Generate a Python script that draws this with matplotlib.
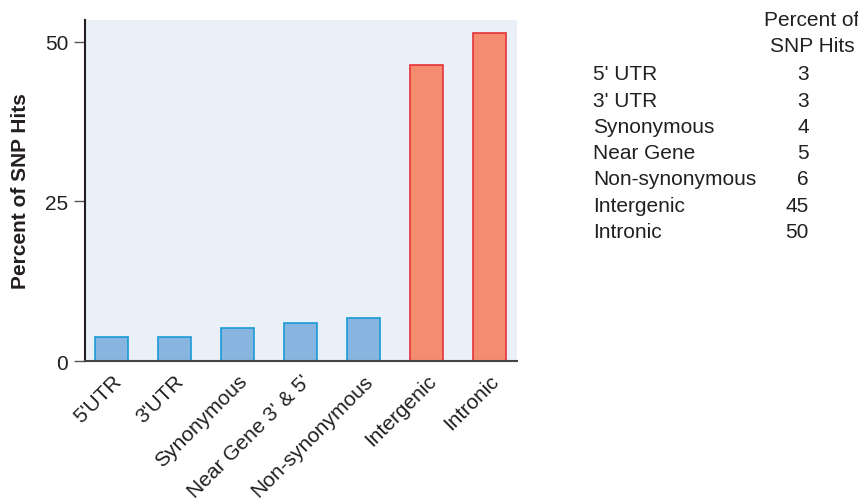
import matplotlib
matplotlib.use("Agg")
import matplotlib.pyplot as plt

plt.rcParams['font.family'] = ['Liberation Sans', 'DejaVu Sans']

# bar data (heights as drawn in the chart)
categories = ["5'UTR", "3'UTR", "Synonymous", "Near Gene 3' & 5'",
              "Non-synonymous", "Intergenic", "Intronic"]
bar_values = [3.8, 3.8, 5.1, 5.9, 6.7, 46.3, 51.3]
is_high = [False, False, False, False, False, True, True]

# side table
table_labels = ["5' UTR", "3' UTR", "Synonymous", "Near Gene",
                "Non-synonymous", "Intergenic", "Intronic"]
table_values = [3, 3, 4, 5, 6, 45, 50]

text_col = '#231f20'
blue_fill, blue_edge = '#88b5df', '#1a9ad6'
red_fill, red_edge = '#f48d70', '#e8303a'

fig = plt.figure(figsize=(8.58, 5.02), dpi=100)
ax = fig.add_axes([85/858, 1 - 362/502, 432/858, 341/502])
ax.set_facecolor('#e9f0f8')

fills = [red_fill if h else blue_fill for h in is_high]
edges = [red_edge if h else blue_edge for h in is_high]
ax.bar(range(len(categories)), bar_values, width=0.52, color=fills,
       edgecolor=edges, linewidth=1.2, zorder=2)

ax.set_xlim(-0.42, 6.44)
ax.set_ylim(0, 53.4)
ax.set_yticks([0, 25, 50])
ax.set_xticks(range(len(categories)))
ax.set_xticklabels(categories, rotation=45, ha='right', va='top',
                   rotation_mode='anchor', fontsize=15, color=text_col)
ax.tick_params(axis='x', length=0, pad=7)
ax.tick_params(axis='y', length=8, width=1, color='#555555', pad=4,
               labelsize=15, labelcolor=text_col)

for s in ['top', 'right']:
    ax.spines[s].set_visible(False)
ax.spines['left'].set_color(text_col)
ax.spines['left'].set_linewidth(1.5)
ax.spines['bottom'].set_color('#444444')
ax.spines['bottom'].set_linewidth(1.5)

ax.set_ylabel('Percent of SNP Hits', fontsize=15, fontweight='bold', color=text_col)
ax.yaxis.set_label_coords(-0.127, 0.5)

# table on the right
def fy(py):
    return 1 - py / 502

fig.text(812/858, fy(20), 'Percent of', ha='center', va='center', fontsize=15, color=text_col)
fig.text(812/858, fy(47), 'SNP Hits', ha='center', va='center', fontsize=15, color=text_col)
for i, (lab, val) in enumerate(zip(table_labels, table_values)):
    y = fy(75 + i * 26.2)
    fig.text(593/858, y, lab, ha='left', va='center', fontsize=15, color=text_col)
    fig.text(809/858, y, str(val), ha='right', va='center', fontsize=15, color=text_col)

fig.savefig('out.png', dpi=100)
